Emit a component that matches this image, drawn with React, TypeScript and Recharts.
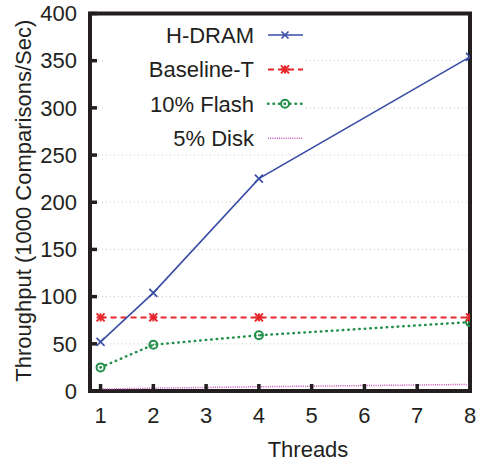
import React from 'react';
import { LineChart, Line, XAxis, YAxis, CartesianGrid, Legend, Label, ReferenceArea } from 'recharts';

const threads = [1, 2, 4, 8];
const hdram = [52, 104, 225, 354];
const baselineT = [78, 78, 78, 78];
const flash10 = [25, 49, 59, 73];
const disk5 = [2, 3, 4.5, 7];
const xTicks = [1, 2, 3, 4, 5, 6, 7, 8];
const yTicks = [0, 50, 100, 150, 200, 250, 300, 350, 400];
const seriesNames = ['H-DRAM', 'Baseline-T', '10% Flash', '5% Disk'];

const data = threads.map((t, i) => ({
  t,
  hdram: hdram[i],
  base: baselineT[i],
  flash: flash10[i],
  disk: disk5[i],
}));

const FONT = '"Liberation Sans", Arial, Helvetica, sans-serif';
const BLUE = '#3a4da6';
const RED = '#e8262b';
const GREEN = '#22904a';
const MAGENTA = '#c653b8';
const INK = '#231f20';

const Cross = ({ cx, cy, color, s = 4 }: any) => (
  <g stroke={color} strokeWidth={1.6}>
    <line x1={cx - s} y1={cy - s} x2={cx + s} y2={cy + s} />
    <line x1={cx - s} y1={cy + s} x2={cx + s} y2={cy - s} />
  </g>
);
const Star = ({ cx, cy, color, s = 4 }: any) => (
  <g stroke={color} strokeWidth={2}>
    <line x1={cx - s} y1={cy} x2={cx + s} y2={cy} />
    <line x1={cx} y1={cy - s} x2={cx} y2={cy + s} />
    <line x1={cx - s} y1={cy - s} x2={cx + s} y2={cy + s} />
    <line x1={cx - s} y1={cy + s} x2={cx + s} y2={cy - s} />
  </g>
);
const Ring = ({ cx, cy, color }: any) => (
  <g>
    <circle cx={cx} cy={cy} r={4} fill="none" stroke={color} strokeWidth={2} />
    <circle cx={cx} cy={cy} r={1} fill={color} />
  </g>
);

const legendRows = [
  { name: seriesNames[0], color: BLUE, dash: undefined, w: 1.6, cap: 'butt', m: 'cross' },
  { name: seriesNames[1], color: RED, dash: '6 4', w: 2, cap: 'butt', m: 'star' },
  { name: seriesNames[2], color: GREEN, dash: '0.5 5', w: 2.5, cap: 'round', m: 'ring' },
  { name: seriesNames[3], color: MAGENTA, dash: '1 1.2', w: 1.5, cap: 'butt', m: 'none' },
];

const renderLegend = () => (
  <svg width={200} height={130} style={{ display: 'block' }}>
    {legendRows.map((r, i) => {
      const y = 15 + i * 34.4;
      return (
        <g key={i}>
          <text x={149} y={y} dy={8} textAnchor="end" fontSize={22} fontFamily={FONT} fill={INK}>
            {r.name}
          </text>
          <line x1={163} x2={198} y1={y} y2={y} stroke={r.color} strokeWidth={r.w} strokeDasharray={r.dash} strokeLinecap={r.cap as any} />
          {r.m === 'cross' && <Cross cx={180} cy={y} color={r.color} s={3.5} />}
          {r.m === 'star' && <Star cx={180} cy={y} color={r.color} />}
          {r.m === 'ring' && <Ring cx={180} cy={y} color={r.color} />}
        </g>
      );
    })}
  </svg>
);

// Tick marks are drawn by the axes' own tickLine (pointing inward via a negative tickSize)
const TICK = -7;
const tickLineStyle = { stroke: INK, strokeWidth: 3.5 };

export default function App() {
  return (
    <div style={{ position: 'absolute', left: 0, top: 0, background: '#fff' }}>
      <LineChart
        width={485}
        height={463}
        data={data}
        margin={{ top: 13.5, right: 15, bottom: 0, left: 0 }}
        style={{ fontFamily: FONT }}
      >
        <CartesianGrid vertical={false} stroke="#c8c8c8" strokeDasharray="1 3" />
        <Legend
          layout="vertical"
          align="center"
          verticalAlign="middle"
          content={renderLegend}
          wrapperStyle={{ left: 105, top: 20, width: 200, height: 130, background: '#fff', margin: 0 }}
        />
        <Line
          dataKey="disk"
          stroke={MAGENTA}
          strokeWidth={1.5}
          strokeDasharray="1 1.2"
          dot={false}
          isAnimationActive={false}
        />
        <Line
          dataKey="flash"
          stroke={GREEN}
          strokeWidth={2.5}
          strokeDasharray="0.5 5"
          strokeLinecap="round"
          dot={(p: any) => <Ring key={`f${p.index}`} cx={p.cx} cy={p.cy} color={GREEN} />}
          isAnimationActive={false}
        />
        <Line
          dataKey="base"
          stroke={RED}
          strokeWidth={2}
          strokeDasharray="6 4"
          dot={(p: any) => <Star key={`b${p.index}`} cx={p.cx} cy={p.cy} color={RED} />}
          isAnimationActive={false}
        />
        <Line
          dataKey="hdram"
          stroke={BLUE}
          strokeWidth={1.6}
          dot={(p: any) => <Cross key={`h${p.index}`} cx={p.cx} cy={p.cy} color={BLUE} />}
          isAnimationActive={false}
        />
        <XAxis
          dataKey="t"
          type="number"
          domain={[0.8, 8]}
          ticks={xTicks}
          allowDataOverflow
          height={72}
          tickSize={TICK}
          tickMargin={23}
          tick={{ fontSize: 22, fontFamily: FONT, fill: INK }}
          stroke={INK}
          axisLine={false}
          tickLine={tickLineStyle}
        >
          <Label
            content={(p: any) => {
              const vb = p.viewBox || { x: 90, y: 391, width: 380, height: 72 };
              return (
                <text x={vb.x + vb.width / 2 + 28} y={vb.y + 66} textAnchor="middle" fontSize={22} fontFamily={FONT} fill={INK}>
                  Threads
                </text>
              );
            }}
          />
        </XAxis>
        <XAxis
          xAxisId="top"
          orientation="top"
          dataKey="t"
          type="number"
          domain={[0.8, 8]}
          ticks={xTicks}
          allowDataOverflow
          height={0}
          tickSize={TICK}
          tick={false}
          stroke={INK}
          axisLine={false}
          tickLine={tickLineStyle}
        />
        <YAxis
          type="number"
          domain={[0, 400]}
          ticks={yTicks}
          width={90}
          tickSize={TICK}
          tickMargin={20}
          tick={{ fontSize: 22, fontFamily: FONT, fill: INK }}
          stroke={INK}
          axisLine={false}
          tickLine={tickLineStyle}
        >
          <Label
            content={(p: any) => {
              const vb = p.viewBox || { x: 0, y: 13.5, width: 90, height: 377.5 };
              const x = vb.x + 31;
              const y = vb.y + vb.height / 2 - 1.5;
              return (
                <text x={x} y={y} textAnchor="middle" fontSize={22} fontFamily={FONT} fill={INK} transform={`rotate(-90, ${x}, ${y})`}>
                  Throughput (1000 Comparisons/Sec)
                </text>
              );
            }}
          />
        </YAxis>
        <YAxis
          yAxisId="r"
          orientation="right"
          type="number"
          domain={[0, 400]}
          ticks={yTicks}
          width={0}
          tick={false}
          tickLine={false}
          axisLine={false}
        />
        <ReferenceArea
          x1={0.8}
          x2={8}
          y1={0}
          y2={400}
          fill="none"
          fillOpacity={0}
          stroke={INK}
          strokeWidth={4}
          ifOverflow="visible"
        />
      </LineChart>
    </div>
  );
}
